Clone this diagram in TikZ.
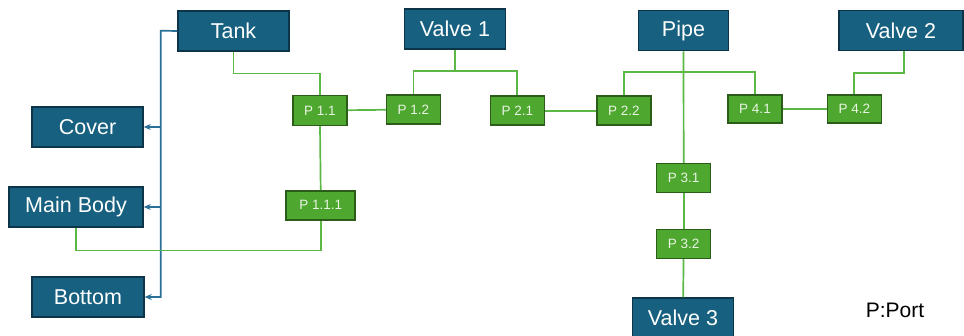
\documentclass[tikz,border=0pt]{standalone}
\usepackage{fontspec}
\setmainfont{Liberation Sans}
\usetikzlibrary{arrows.meta}
\definecolor{bfill}{HTML}{17607F}
\definecolor{bdraw}{HTML}{0D3549}
\definecolor{gfill}{HTML}{4EA72E}
\definecolor{gdraw}{HTML}{2B5C1A}
\definecolor{gline}{HTML}{5CB845}
\definecolor{bline}{HTML}{2A6F97}
\definecolor{gtext}{HTML}{EAF4E4}
\begin{document}
\begin{tikzpicture}[x=1pt,y=-1pt,
  part/.style={draw=bdraw,fill=bfill,line width=1.5pt,text=white,minimum height=40pt,inner sep=0pt,font=\fontsize{21.5}{24}\selectfont},
  port/.style={draw=gdraw,fill=gfill,line width=1.5pt,text=gtext,minimum height=29pt,minimum width=54pt,inner sep=0pt,font=\fontsize{13.5}{15}\selectfont},
  gl/.style={draw=gline,line width=1.7pt},
  bl/.style={draw=bline,line width=1.7pt,-{Stealth[length=7pt,width=6pt]}}]
\useasboundingbox (0,0) rectangle (964,336);
\fill[white] (0,0) rectangle (964,336);
% green connections (behind boxes)
\coordinate (v1j) at (455,71.3);
\coordinate (pj) at (683.5,72);
\coordinate (trunk) at (160.7,30.7);
% parts
\node[part,minimum width=111pt] (tank) at (233.5,31) {Tank};
\node[part,minimum width=111pt] (cover) at (87.5,127) {Cover};
\node[part,minimum width=134pt] (mainbody) at (76,207) {Main Body};
\node[part,minimum width=112pt] (bottom) at (88,297) {Bottom};
\node[part,minimum width=101pt] (valve1) at (455,29) {Valve 1};
\node[part,minimum width=90pt] (pipe) at (683.5,30.7) {Pipe};
\node[part,minimum width=124pt] (valve2) at (901,30.7) {Valve 2};
\node[part,minimum width=101pt] (valve3) at (683,318) {Valve 3};
% ports
\node[port,minimum height=30pt] (p11) at (320,110.5) {P 1.1};
\node[port] (p12) at (413.5,109.5) {P 1.2};
\node[port] (p21) at (517.3,110.7) {P 2.1};
\node[port] (p22) at (624,110.7) {P 2.2};
\node[port,minimum height=28pt] (p41) at (755,109.2) {P 4.1};
\node[port,minimum height=28pt] (p42) at (854.3,109.2) {P 4.2};
\node[port,minimum width=69pt] (p111) at (320.7,205.3) {P 1.1.1};
\node[port] (p31) at (683.7,178.2) {P 3.1};
\node[port] (p32) at (683.7,244) {P 3.2};
\node[font=\fontsize{21}{24}\selectfont] (legend) at (895,310) {P:Port};
% blue hierarchy
\draw[bl] (tank.west) -- (trunk) |- (bottom.east);
\draw[bl] (trunk |- cover.east) -- (cover.east);
\draw[bl] (trunk |- mainbody.east) -- (mainbody.east);
% green connections
\draw[gl] (tank.south) -- ++(0,21.7) -| (p11.north);
\draw[gl] (p11) -- (p12);
\draw[gl] (p11.south) -- (p111.north);
\draw[gl] (p111.south) -- ++(0,30) -| (mainbody.south);
\draw[gl] (valve1.south) -- (v1j);
\draw[gl] (p12.north) |- (v1j) -| (p21.north);
\draw[gl] (p21) -- (p22);
\draw[gl] (pipe.south) -- (p31.north);
\draw[gl] (p22.north) |- (pj) -| (p41.north);
\draw[gl] (p31) -- (p32);
\draw[gl] (p32) -- (valve3);
\draw[gl] (p41) -- (p42);
\draw[gl] ([xshift=3.3pt]valve2.south) -- ++(0,21.3) -| (p42.north);
\end{tikzpicture}
\end{document}
